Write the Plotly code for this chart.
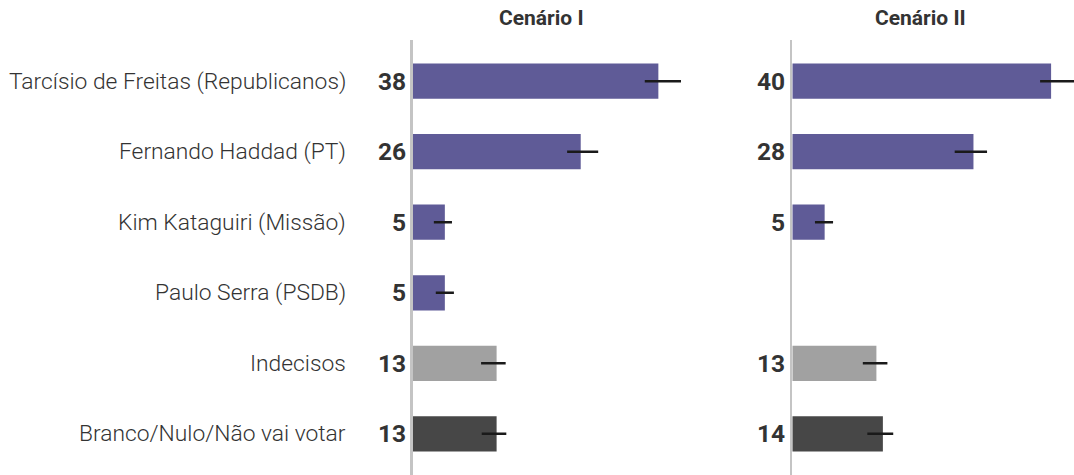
import plotly.graph_objects as go

categories = [
    "Tarcísio de Freitas (Republicanos)",
    "Fernando Haddad (PT)",
    "Kim Kataguiri (Missão)",
    "Paulo Serra (PSDB)",
    "Indecisos",
    "Branco/Nulo/Não vai votar",
]
scenario_titles = ["Cenário I", "Cenário II"]

values_1 = [38, 26, 5, 5, 13, 13]
values_2 = [40, 28, 5, None, 13, 14]

# error-bar centres (unrounded estimates) and margins
centers_1 = [38.7, 26.3, 4.7, 5.0, 12.5, 12.6]
margins_1 = [2.8, 2.4, 1.4, 1.4, 1.9, 1.9]
centers_2 = [41.2, 27.6, 4.9, None, 12.8, 13.6]
margins_2 = [2.9, 2.5, 1.4, None, 1.9, 2.0]

bar_colors = ["#5f5b97", "#5f5b97", "#5f5b97", "#5f5b97", "#a1a1a1", "#474747"]

W, H = 1074, 475
px_per_unit = 6.47
x1_start = 412.5
x2_start = 792.3
span = (W - x2_start) / px_per_unit

fig = go.Figure()

panels = [
    (values_1, centers_1, margins_1, "x", "y"),
    (values_2, centers_2, margins_2, "x2", "y2"),
]
for vals, cents, margs, xa, ya in panels:
    fig.add_trace(go.Bar(
        x=vals, y=categories, orientation="h",
        marker=dict(color=bar_colors, line=dict(width=0)),
        width=0.5, xaxis=xa, yaxis=ya, hoverinfo="skip", showlegend=False,
    ))
    fig.add_trace(go.Scatter(
        x=cents, y=categories, mode="markers",
        marker=dict(size=1, opacity=0),
        error_x=dict(type="data", array=margs, color="#1a1a1a", thickness=2.7, width=0),
        xaxis=xa, yaxis=ya, hoverinfo="skip", showlegend=False, cliponaxis=False,
    ))

d1 = [x1_start / W, (x1_start + span * px_per_unit) / W]
d2 = [x2_start / W, 1.0]
yrange = [5.585, -0.585]

axis_common = dict(showgrid=False, zeroline=False, showticklabels=False, ticks="",
                   range=[0, span], fixedrange=True)
yaxis_common = dict(showgrid=False, zeroline=False, showticklabels=False, ticks="",
                    showline=True, linecolor="#c4c4c4", linewidth=2.5,
                    type="category", categoryorder="array", categoryarray=categories,
                    range=yrange, domain=[0, 1], fixedrange=True)

fig.update_layout(
    width=W, height=H,
    margin=dict(l=0, r=0, t=40, b=0),
    paper_bgcolor="white", plot_bgcolor="white",
    xaxis=dict(domain=d1, anchor="y", **axis_common),
    xaxis2=dict(domain=d2, anchor="y2", **axis_common),
    yaxis=dict(anchor="x", **yaxis_common),
    yaxis2=dict(anchor="x2", **yaxis_common),
    bargap=0.5,
)

annotations = []
# category labels
for c in categories:
    annotations.append(dict(
        x=348 / W, xref="paper", y=c, yref="y", xanchor="right", yanchor="middle",
        text=c, showarrow=False,
        font=dict(family="Roboto", size=22.8, color="#333333", weight=300),
    ))
# value labels
for vals, xa, ya in [(values_1, "x", "y"), (values_2, "x2", "y2")]:
    for c, v in zip(categories, vals):
        if v is None:
            continue
        annotations.append(dict(
            x=0, xref=xa, y=c, yref=ya, xanchor="right", yanchor="middle",
            xshift=-5, text=str(v), showarrow=False,
            font=dict(family="Roboto", size=24.5, color="#333333", weight=700),
        ))
# panel titles
for t, xc in zip(scenario_titles, [541.5, 920]):
    annotations.append(dict(
        x=xc / W, xref="paper", y=1, yref="paper", yshift=22.5,
        xanchor="center", yanchor="middle", text=t, showarrow=False,
        font=dict(family="Roboto", size=21, color="#333333", weight=700),
    ))
fig.update_layout(annotations=annotations)

fig.write_html(
    "out.html",
    config={"displayModeBar": False, "staticPlot": True},
    post_script="document.body.style.margin='0';document.body.style.overflow='hidden';",
)
